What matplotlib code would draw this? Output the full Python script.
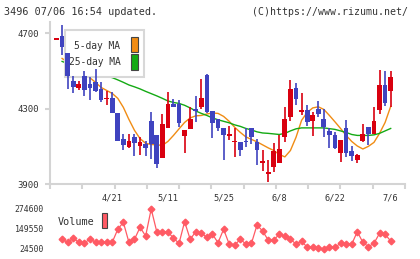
import numpy as np
import matplotlib.pyplot as plt
from matplotlib.patches import Rectangle

plt.rcParams['font.family'] = ['DejaVu Sans Mono']

# ---- data ----
title_left = '3496 07/06 16:54 updated.'
title_right = '(C)https://www.rizumu.net/'
date_labels = ['4/21', '5/11', '5/25', '6/8', '6/22', '7/6']
date_pos = [10, 20, 30, 40, 50, 60]
price_ticks = [3900, 4300, 4700]
vol_ticks = [24500, 149550, 274600]

opens = [4670, 4685, 4595, 4445, 4410, 4475, 4430, 4440, 4405, 4355,
         4355, 4275, 4140, 4095, 4150, 4100, 4115, 4235, 4160, 4040,
         4200, 4325, 4325, 4155, 4190, 4300, 4310, 4480, 4290, 4245,
         4200, 4155, 4125, 4125, 4130, 4195, 4125, 4010, 3955, 3990,
         4010, 4150, 4255, 4410, 4285, 4295, 4235, 4300, 4245, 4180,
         4160, 4065, 4200, 4075, 4030, 4130, 4205, 4165, 4295, 4425, 4395]
highs = [4670, 4745, 4595, 4475, 4445, 4500, 4470, 4510, 4440, 4395,
         4390, 4275, 4165, 4165, 4165, 4150, 4130, 4280, 4160, 4270,
         4390, 4350, 4345, 4185, 4310, 4365, 4460, 4485, 4290, 4245,
         4200, 4210, 4195, 4125, 4195, 4195, 4140, 4080, 4030, 4120,
         4160, 4310, 4455, 4435, 4385, 4320, 4285, 4340, 4300, 4200,
         4175, 4135, 4240, 4100, 4060, 4220, 4205, 4310, 4505, 4500, 4500]
lows = [4670, 4585, 4405, 4385, 4400, 4370, 4345, 4390, 4335, 4320,
        4275, 4130, 4080, 4090, 4050, 4055, 4050, 4035, 3985, 4040,
        4200, 4310, 4205, 4065, 4190, 4230, 4300, 4275, 4145, 4180,
        4030, 4135, 4045, 4050, 4095, 4110, 4000, 3970, 3910, 3965,
        4010, 4125, 4235, 4320, 4265, 4210, 4155, 4255, 4150, 4090,
        4085, 4015, 4045, 4020, 4010, 4125, 4105, 4165, 4270, 4315, 4310]
closes = [4670, 4625, 4475, 4415, 4430, 4400, 4410, 4395, 4345, 4355,
          4275, 4130, 4105, 4130, 4120, 4125, 4090, 4115, 4005, 4220,
          4325, 4310, 4225, 4185, 4245, 4290, 4355, 4280, 4225, 4195,
          4160, 4165, 4130, 4080, 4125, 4150, 4080, 4020, 3965, 4075,
          4085, 4245, 4405, 4350, 4290, 4230, 4265, 4270, 4205, 4160,
          4090, 4135, 4065, 4050, 4055, 4165, 4165, 4235, 4425, 4330, 4470]
ma5 = [np.nan, 4567, 4546, 4525, 4503, 4482, 4464, 4440, 4413, 4397,
       4381, 4355, 4307, 4243, 4185, 4141, 4116, 4110, 4108, 4105,
       4126, 4158, 4193, 4227, 4251, 4262, 4264, 4272, 4277, 4275,
       4259, 4233, 4201, 4174, 4150, 4137, 4124, 4108, 4092, 4078,
       4057, 4044, 4078, 4148, 4238, 4280, 4304, 4310, 4296, 4264,
       4230, 4195, 4158, 4126, 4102, 4086, 4100, 4121, 4169, 4227, 4312]
ma25 = [np.nan, 4551, 4540, 4529, 4516, 4505, 4495, 4488, 4480, 4472,
        4465, 4453, 4440, 4426, 4416, 4405, 4392, 4380, 4368, 4355,
        4341, 4333, 4328, 4318, 4304, 4288, 4275, 4264, 4251, 4241,
        4233, 4225, 4214, 4206, 4195, 4187, 4177, 4171, 4169, 4166,
        4163, 4169, 4182, 4193, 4198, 4198, 4198, 4198, 4198, 4194,
        4190, 4182, 4174, 4163, 4158, 4158, 4158, 4161, 4169, 4182, 4195]
volume = [np.nan, 85150, 66400, 91400, 66400, 60140, 88900, 66400, 66400, 66400,
          66400, 147700, 191450, 66400, 85150, 160180, 105780, 274600, 132670, 132670,
          132670, 91400, 60140, 195200, 85150, 132670, 122660, 97650, 116410, 63900,
          147700, 55760, 49500, 85150, 55760, 60140, 174560, 137050, 80770, 80770,
          116410, 105780, 85150, 55760, 74520, 35130, 35130, 28880, 24500, 35130,
          35130, 60140, 53890, 53890, 132670, 66400, 38880, 60140, 122660, 116410, 74520]

RED = '#d9000f'
BLUE = '#3f43bf'
ORANGE = '#f08c14'
GREEN = '#14aa14'
VOLC = '#ff5a64'
AXC = '#d4d4d4'
TXT = '#333333'

W, H = 420, 259
fig = plt.figure(figsize=(W / 100, H / 100), dpi=100)


def fx(px):
    return px / W


def fy(py):
    return 1 - py / H


ax = fig.add_axes([fx(50), fy(184), (405 - 50) / W, (184 - 21.7) / H])
axv = fig.add_axes([fx(50), fy(249), (405 - 50) / W, 40 / H])

x = np.arange(len(closes))
o = np.array(opens, dtype=float)
c = np.array(closes, dtype=float)
cols = np.where(c >= o, RED, BLUE)

# candles
ax.vlines(x, lows, highs, colors=cols, lw=1.2, zorder=3)
body = np.abs(c - o)
bh = np.maximum(body, 7)
bb = np.minimum(o, c) - (bh - body) / 2
ax.bar(x, bh, bottom=bb, width=0.85, color=cols, zorder=4)

# moving averages
ax.plot(x, ma5, color=ORANGE, lw=1, zorder=1)
ax.plot(x, ma25, color=GREEN, lw=1, zorder=1)

# legend box (drawn over the lines, under the candles)
ax.add_patch(Rectangle((fx(65), fy(77.3)), (144 - 65) / W, (77.3 - 30) / H,
                       transform=fig.transFigure, facecolor='white',
                       edgecolor='#d8d8d8', lw=1.5, zorder=2, clip_on=False))
ax.text(fx(120.5), fy(45.7), '5-day MA', transform=fig.transFigure, ha='right',
        va='center', fontsize=6.9, color=TXT, zorder=2.5)
ax.text(fx(120.5), fy(62.3), '25-day MA', transform=fig.transFigure, ha='right',
        va='center', fontsize=6.9, color=TXT, zorder=2.5)
ax.add_patch(Rectangle((fx(131), fy(52.3)), 6.7 / W, 15.6 / H, transform=fig.transFigure,
                       facecolor=ORANGE, edgecolor='#444444', lw=0.8, zorder=2.5, clip_on=False))
ax.add_patch(Rectangle((fx(131), fy(70)), 6.7 / W, 15.7 / H, transform=fig.transFigure,
                       facecolor=GREEN, edgecolor='#444444', lw=0.8, zorder=2.5, clip_on=False))

ax.set_xlim(-1.17, 62.57)
ax.set_ylim(3900, 4762)
ax.set_xticks(date_pos)
ax.set_xticklabels(date_labels)
ax.set_xticks(np.linspace(-1.17, 62.57, 12), minor=True)
ax.tick_params(axis='x', which='major', length=0, pad=6.5, labelsize=6.2, labelcolor=TXT)
ax.tick_params(axis='x', which='minor', length=3.5, width=1.5, color=AXC)
ax.set_yticks(price_ticks)
ax.tick_params(axis='y', length=3.6, width=1.5, color=AXC, pad=4.3,
               labelsize=6.5, labelcolor=TXT)
for s in ['top', 'right']:
    ax.spines[s].set_visible(False)
for s in ['left', 'bottom']:
    ax.spines[s].set_color(AXC)
    ax.spines[s].set_linewidth(1.5)

# volume panel
axv.plot(x, volume, color=VOLC, lw=0.9, marker='D', ms=3.4, clip_on=False)
axv.set_xlim(-1.17, 62.57)
axv.set_ylim(vol_ticks[0], vol_ticks[-1])
axv.set_xticks([])
axv.set_yticks(vol_ticks)
axv.set_yticklabels([str(v) for v in vol_ticks])
axv.tick_params(axis='y', length=0, pad=4.3, labelsize=5.9, labelcolor=TXT)
for s in axv.spines.values():
    s.set_visible(False)
axv.patch.set_visible(False)

fig.text(fx(58), fy(222.3), 'Volume', ha='left', va='center', fontsize=7.3, color=TXT)
fig.add_artist(Rectangle((fx(101.7), fy(228.3)), 5.6 / W, 15 / H, transform=fig.transFigure,
                         facecolor=VOLC, edgecolor='#444444', lw=0.8))

fig.text(fx(4), fy(12), title_left, ha='left', va='center', fontsize=7.3, color=TXT)
fig.text(fx(408), fy(12), title_right, ha='right', va='center', fontsize=7.1, color=TXT)

fig.savefig('out.png', dpi=100)
